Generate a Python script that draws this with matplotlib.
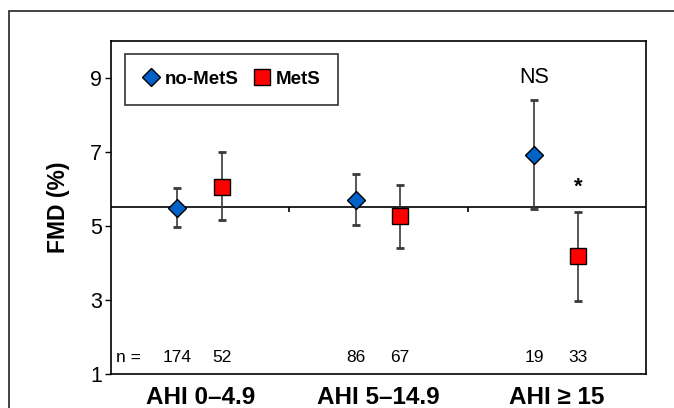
import matplotlib
matplotlib.use("Agg")
import matplotlib.pyplot as plt
from matplotlib.patches import Rectangle
from matplotlib.lines import Line2D

# ---- data ----
groups = ["AHI 0\u20134.9", "AHI 5\u201314.9", "AHI \u2265 15"]
series = ["no-MetS", "MetS"]
nomets_mean = [5.48, 5.70, 6.91]
nomets_lo = [4.97, 5.03, 5.46]
nomets_hi = [6.02, 6.40, 8.41]
mets_mean = [6.05, 5.27, 4.17]
mets_lo = [5.16, 4.41, 2.96]
mets_hi = [6.99, 6.11, 5.38]
nomets_n = [174, 86, 19]
mets_n = [52, 67, 33]
nomets_note = ["", "", "NS"]
mets_note = ["", "", "*"]
reference = 5.5
yticks = [1, 3, 5, 7, 9]

REG = ["Liberation Sans", "DejaVu Sans"]
plt.rcParams["font.family"] = REG

fig = plt.figure(figsize=(6.74, 4.08), dpi=100)
W, H = 674, 408
ax = fig.add_axes([111 / W, 1 - 373.7 / H, 535 / W, 333 / H])

# outer frame
fig.patches.append(Rectangle((8.5 / W, -0.2), 1.2, 1 - 11 / H + 0.2,
                             transform=fig.transFigure, fill=False,
                             edgecolor="#222222", linewidth=1.2, zorder=0))

x = list(range(len(groups)))
off_a, off_b = -0.128, 0.12
xa = [i + off_a for i in x]
xb = [i + off_b for i in x]

ax.set_xlim(-0.5, len(groups) - 0.5)
ax.set_ylim(1, 10)

# reference line with category-boundary ticks
ax.axhline(reference, color="black", lw=1.2, zorder=1)
bounds = [i + 0.5 for i in x[:-1]]
ax.vlines(bounds, reference - 0.12, reference, color="black", lw=1.2, zorder=1)

err_kw = dict(fmt="none", ecolor="#3a3a3a", elinewidth=1.2, capsize=2.8,
              capthick=2.0, zorder=2)
ea = ax.errorbar(xa, nomets_mean,
                 yerr=[[m - l for m, l in zip(nomets_mean, nomets_lo)],
                       [h - m for m, h in zip(nomets_mean, nomets_hi)]], **err_kw)
eb = ax.errorbar(xb, mets_mean,
                 yerr=[[m - l for m, l in zip(mets_mean, mets_lo)],
                       [h - m for m, h in zip(mets_mean, mets_hi)]], **err_kw)
for e in (ea, eb):
    for c in e[1]:
        c.set_color("black")

ax.plot(xa, nomets_mean, linestyle="none", marker="D", markersize=9.3,
        markerfacecolor="#0062C8", markeredgecolor="black", markeredgewidth=1.0,
        zorder=3)
ax.plot(xb, mets_mean, linestyle="none", marker="s", markersize=11,
        markerfacecolor="#FF0000", markeredgecolor="black", markeredgewidth=1.0,
        zorder=3)

# notes
for xi, h, t in zip(xa, nomets_hi, nomets_note):
    if t:
        ax.annotate(t, (xi, h), xytext=(0, 8), textcoords="offset points",
                    ha="center", va="bottom", fontsize=15.5, family=REG)
for xi, h, t in zip(xb, mets_hi, mets_note):
    if t:
        ax.annotate(t, (xi, h), xytext=(0, 10), textcoords="offset points",
                    ha="center", va="bottom", fontsize=16, fontweight="bold",
                    family=REG)

# n labels
n_y = 1.43
ax.text(0.01, n_y, "n =", transform=ax.get_yaxis_transform(which="grid"),
        ha="left", va="center", fontsize=12.5, family=REG)
for xi, n in zip(xa, nomets_n):
    ax.text(xi, n_y, str(n), ha="center", va="center", fontsize=12.5, family=REG)
for xi, n in zip(xb, mets_n):
    ax.text(xi, n_y, str(n), ha="center", va="center", fontsize=12.5, family=REG)

# axes styling
for s in ax.spines.values():
    s.set_linewidth(1.2)
    s.set_color("black")
ax.set_yticks(yticks)
ax.set_yticklabels([str(v) for v in yticks], fontsize=15.5, family=REG)
ax.tick_params(axis="y", direction="out", length=4.5, width=1.0, pad=2)
ax.set_xticks(x)
ax.set_xticklabels(groups, fontsize=17.5, fontweight="bold", family=REG)
ax.tick_params(axis="x", length=0, pad=9)
ax.set_ylabel("FMD (%)", fontsize=16.5, fontweight="bold", family=REG)
ax.yaxis.set_label_coords(-0.076, 0.5)

# legend
handles = [
    Line2D([], [], linestyle="none", marker="D", markersize=9.3,
           markerfacecolor="#0062C8", markeredgecolor="black", markeredgewidth=1.0),
    Line2D([], [], linestyle="none", marker="s", markersize=11,
           markerfacecolor="#FF0000", markeredgecolor="black", markeredgewidth=1.0),
]
leg = ax.legend(handles, series, loc="upper left", bbox_to_anchor=(0.027, 0.961),
                ncol=2, frameon=True, fancybox=False, borderaxespad=0,
                handlelength=0.9, handletextpad=0.3, columnspacing=0.8,
                borderpad=0.9, prop={"family": REG, "weight": "bold", "size": 13.5})
leg.get_frame().set_edgecolor("black")
leg.get_frame().set_linewidth(1.2)

fig.savefig("out.png", dpi=100)
